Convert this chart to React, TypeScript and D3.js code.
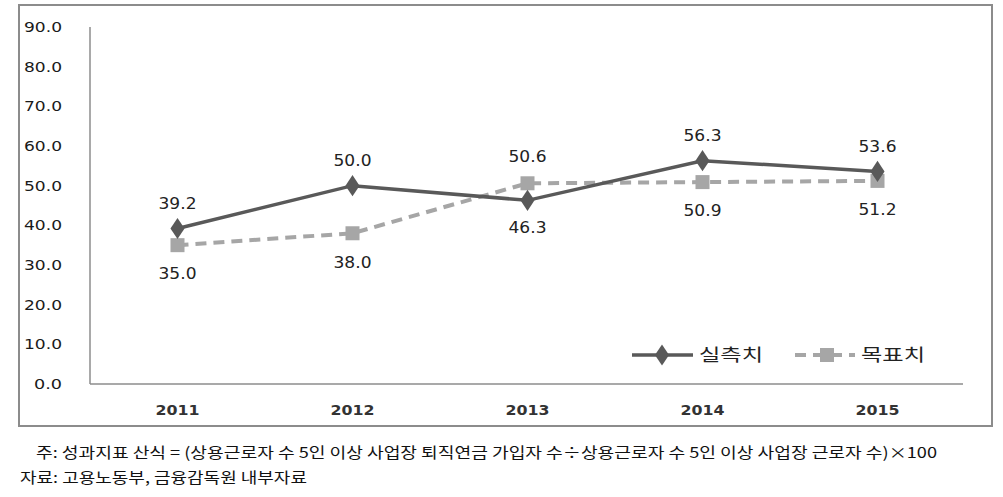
import React from "react";
import * as d3 from "d3";

const years = ["2011", "2012", "2013", "2014", "2015"];
const actual = [39.2, 50.0, 46.3, 56.3, 53.6];
const target = [35.0, 38.0, 50.6, 50.9, 51.2];
const yTicks = [0, 10, 20, 30, 40, 50, 60, 70, 80, 90];
// label placement: true = above point
const actualAbove = [true, true, false, true, true];
const targetAbove = [false, false, true, false, false];
const seriesNames = ["실측치", "목표치"];
const note1 = "주: 성과지표 산식 = (상용근로자 수 5인 이상 사업장 퇴직연금 가입자 수÷상용근로자 수 5인 이상 사업장 근로자 수)×100";
const note2 = "자료: 고용노동부, 금융감독원 내부자료";

// width of a stretched numeric label
const numLen = (s: string, digit: number, dot: number) =>
  s.split("").reduce((acc, c) => acc + (c === "." ? dot : digit), 0);

export default function App() {
  const W = 1003, H = 497;
  const x = d3.scaleBand().domain(years).range([90, 965]);
  const y = d3.scaleLinear().domain([0, 90]).range([384, 27]);
  const cx = (d: string) => (x(d) as number) + x.bandwidth() / 2;
  const line = d3.line<number>().x((_, i) => cx(years[i])).y((v) => y(v));
  const font = "'DejaVu Sans', Verdana, sans-serif";
  const kfont = "'Noto Sans CJK KR', sans-serif";
  const diamond = d3.symbol().type(d3.symbolDiamond).size(130)();
  const ly = 355;
  return (
    <svg width={W} height={H} style={{ position: "absolute", left: 0, top: 0 }}>
      <rect x={0} y={0} width={W} height={H} fill="#fff" />
      <rect x={19} y={5} width={973} height={421} fill="none" stroke="#8c8c8c" strokeWidth={2} />
      {/* axes */}
      <line x1={90} x2={90} y1={27} y2={384} stroke="#8c8c8c" strokeWidth={1.5} />
      <line x1={90} x2={963} y1={384} y2={384} stroke="#8c8c8c" strokeWidth={1.5} />
      {yTicks.map((t) => {
        const s = t.toFixed(1);
        return (
          <text key={t} x={62} y={y(t)} dy="0.35em" textAnchor="end" fontFamily={font} fontSize={14.5}
            textLength={numLen(s, 10, 8)} lengthAdjust="spacingAndGlyphs" fill="#1a1a1a">
            {s}
          </text>
        );
      })}
      {years.map((yr) => (
        <text key={yr} x={cx(yr)} y={410} dy="0.35em" textAnchor="middle" fontFamily={font} fontSize={14} fontWeight="bold"
          textLength={44} lengthAdjust="spacingAndGlyphs" fill="#333">
          {yr}
        </text>
      ))}
      {/* target line */}
      <path d={line(target) as string} fill="none" stroke="#a6a6a6" strokeWidth={4} strokeDasharray="11,7" />
      {target.map((v, i) => (
        <rect key={i} x={cx(years[i]) - 7} y={y(v) - 7} width={14} height={14} fill="#a6a6a6" />
      ))}
      {/* actual line */}
      <path d={line(actual) as string} fill="none" stroke="#595959" strokeWidth={3.5} />
      {actual.map((v, i) => (
        <path key={i} d={diamond as string} transform={`translate(${cx(years[i])},${y(v)}) scale(1.15,1)`} fill="#595959" />
      ))}
      {/* labels */}
      {actual.map((v, i) => (
        <text key={"a" + i} x={cx(years[i])} y={y(v) + (actualAbove[i] ? -25 : 27)} dy="0.35em" textAnchor="middle" fontFamily={font} fontSize={15}
          textLength={38} lengthAdjust="spacingAndGlyphs" fill="#222">
          {v.toFixed(1)}
        </text>
      ))}
      {target.map((v, i) => (
        <text key={"t" + i} x={cx(years[i])} y={y(v) + (targetAbove[i] ? -27 : 29)} dy="0.35em" textAnchor="middle" fontFamily={font} fontSize={15}
          textLength={38} lengthAdjust="spacingAndGlyphs" fill="#222">
          {v.toFixed(1)}
        </text>
      ))}
      {/* legend */}
      <line x1={632} x2={693} y1={ly} y2={ly} stroke="#595959" strokeWidth={3.5} />
      <path d={diamond as string} transform={`translate(662,${ly}) scale(1.15,1)`} fill="#595959" />
      <text x={699} y={ly} dy="0.35em" fontFamily={kfont} fontSize={17} textLength={64} lengthAdjust="spacingAndGlyphs" fill="#222">{seriesNames[0]}</text>
      <line x1={795} x2={855} y1={ly} y2={ly} stroke="#a6a6a6" strokeWidth={4} strokeDasharray="11,7" />
      <rect x={820} y={ly - 7} width={14} height={14} fill="#a6a6a6" />
      <text x={861} y={ly} dy="0.35em" fontFamily={kfont} fontSize={17} textLength={64} lengthAdjust="spacingAndGlyphs" fill="#222">{seriesNames[1]}</text>
      {/* notes */}
      <text x={36} y={453} dy="0.35em" fontFamily={kfont} fontSize={15} textLength={901} lengthAdjust="spacingAndGlyphs" fill="#111">{note1}</text>
      <text x={20} y={478} dy="0.35em" fontFamily={kfont} fontSize={15} textLength={287} lengthAdjust="spacingAndGlyphs" fill="#111">{note2}</text>
    </svg>
  );
}
